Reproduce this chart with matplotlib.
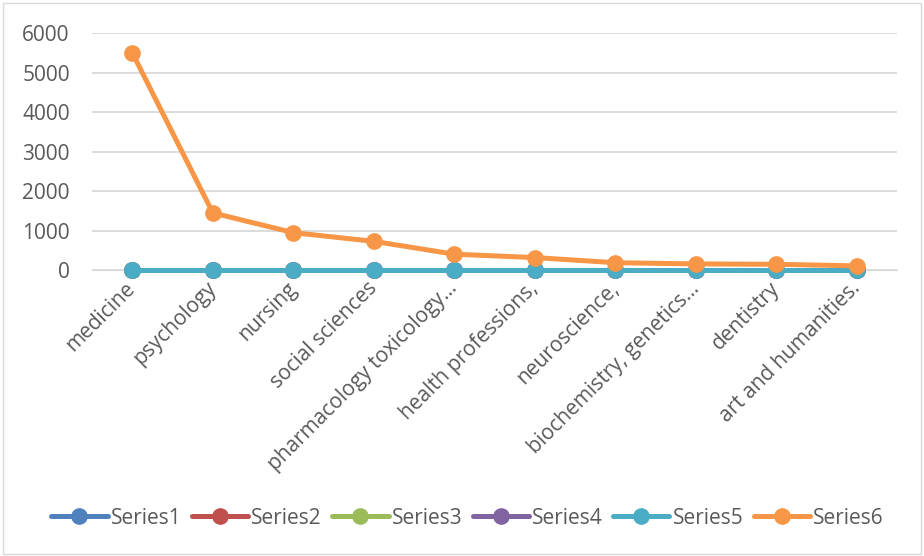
import matplotlib
matplotlib.use("Agg")
import matplotlib.pyplot as plt
from matplotlib.patches import Rectangle

categories = ["medicine", "psychology", "nursing", "social sciences",
              "pharmacology toxicology…", "health professions,", "neuroscience,",
              "biochemistry, genetics…", "dentistry", "art and humanities."]
series1 = [0, 0, 0, 0, 0, 0, 0, 0, 0, 0]
series2 = [0, 0, 0, 0, 0, 0, 0, 0, 0, 0]
series3 = [0, 0, 0, 0, 0, 0, 0, 0, 0, 0]
series4 = [0, 0, 0, 0, 0, 0, 0, 0, 0, 0]
series5 = [0, 0, 0, 0, 0, 0, 0, 0, 0, 0]
series6 = [5500, 1450, 950, 730, 405, 320, 190, 160, 150, 110]
series_names = ["Series1", "Series2", "Series3", "Series4", "Series5", "Series6"]
yticks = [0, 1000, 2000, 3000, 4000, 5000, 6000]

colors = ["#4f81bd", "#c0504d", "#9bbb59", "#8064a2", "#4bacc6", "#f79646"]
plt.rcParams['font.family'] = ['Open Sans', 'DejaVu Sans']
FS = 15
TXT = "#595959"

fig = plt.figure(figsize=(9.24, 5.56), dpi=100)
fig.patches.append(Rectangle((0.003, 0.004), 0.994, 0.991, transform=fig.transFigure,
                             fill=False, edgecolor="#d9d9d9", linewidth=1))
ax = fig.add_axes([0.0996, 0.514, 0.8714, 0.4266])
x = list(range(len(categories)))
for name, vals, c in zip(series_names, [series1, series2, series3, series4, series5, series6], colors):
    ax.plot(x, vals, color=c, linewidth=3.6, marker='o', markersize=11,
            label=name, clip_on=False, zorder=3, solid_capstyle='round')

ax.set_xlim(-0.5, len(categories) - 0.5)
ax.set_ylim(0, 6000)
ax.set_yticks(yticks)
ax.set_yticklabels([str(v) for v in yticks], fontsize=FS, color=TXT)
ax.yaxis.grid(True, color="#d9d9d9", linewidth=1.3)
ax.set_axisbelow(True)
ax.set_xticks(x)
ax.set_xticklabels(categories, rotation=45, ha='right', va='center', rotation_mode='anchor',
                   fontsize=FS, color=TXT)
for s in ax.spines.values():
    s.set_visible(False)
ax.spines['bottom'].set_visible(True)
ax.spines['bottom'].set_color("#d9d9d9")
ax.tick_params(axis='both', length=0)
ax.tick_params(axis='x', pad=11)
ax.tick_params(axis='y', pad=16)

leg = fig.legend(loc='center', bbox_to_anchor=(0.506, 0.068), ncol=6, frameon=False,
                 fontsize=FS, handlelength=2.7, handletextpad=0.15, columnspacing=0.5)
for t in leg.get_texts():
    t.set_color(TXT)

fig.savefig("out.png", dpi=100)
